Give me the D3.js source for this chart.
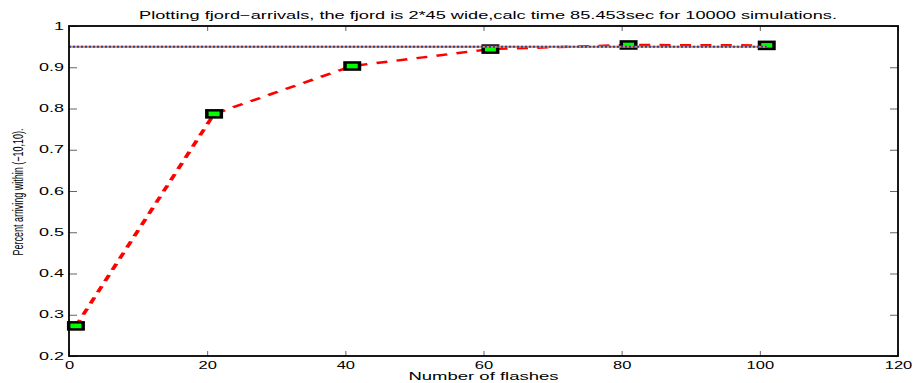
<!DOCTYPE html>
<html>
<head>
<meta charset="utf-8">
<script src="https://cdn.jsdelivr.net/npm/d3@7"></script>
<style>
  html, body { margin: 0; padding: 0; background: #fff; }
  svg { display: block; }
  text { font-family: "Liberation Sans", Arial, Helvetica, sans-serif; fill: #000; }
</style>
</head>
<body>
<svg id="chart" width="916" height="383"></svg>
<script>
// Simulation results: share of boats arriving within (-10,10) per number of flashes
const flashes = [1, 21, 41, 61, 81, 101];
const arrivalShare = [0.273, 0.787, 0.903, 0.944, 0.954, 0.953];

// Target level line
const targetX = [0, 101];
const targetLevel = [0.95, 0.95];

// Axis ticks
const xTicks = [0, 20, 40, 60, 80, 100, 120];
const yTicks = [0.2, 0.3, 0.4, 0.5, 0.6, 0.7, 0.8, 0.9, 1];

const titleText = "Plotting fjord\u2212arrivals, the fjord is 2*45 wide,calc time 85.453sec for 10000 simulations.";
const xLabelText = "Number of flashes";
const yLabelText = "Percent arriving within (\u221210,10).";

const W = 916, H = 383;
const m = { left: 69, top: 26, right: 18, bottom: 27 };
const pw = W - m.left - m.right;   // 829
const ph = H - m.top - m.bottom;   // 330
const stretch = 1.7;               // horizontal stretch of the figure

const svg = d3.select("#chart");

const x = d3.scaleLinear().domain([0, 120]).range([0, pw]);
const y = d3.scaleLinear().domain([0.2, 1]).range([ph, 0]);

const g = svg.append("g").attr("transform", `translate(${m.left},${m.top})`);

// Red dashed curve, drawn in unstretched units and stretched horizontally
const xs = d3.scaleLinear().domain([0, 120]).range([0, pw / stretch]);
const gLine = g.append("g").attr("transform", `scale(${stretch},1)`);
gLine.append("path")
  .datum(flashes.map((f, i) => [f, arrivalShare[i]]))
  .attr("fill", "none")
  .attr("stroke", "#ff0000")
  .attr("stroke-width", 2.4)
  .attr("stroke-dasharray", "6.5,5.5")
  .attr("d", d3.line().x(d => xs(d[0])).y(d => y(d[1])));

// Markers
const mk = g.append("g").selectAll("g.mk")
  .data(flashes.map((f, i) => [f, arrivalShare[i]]))
  .join("g")
  .attr("transform", d => `translate(${x(d[0])},${y(d[1])})`);
mk.append("rect").attr("x", -9).attr("y", -4.8).attr("width", 18).attr("height", 9.6).attr("fill", "#000");
mk.append("rect").attr("x", -5.5).attr("y", -2.3).attr("width", 11).attr("height", 4.6).attr("fill", "#00ff00");

// Target level line (solid under dotted)
const refData = targetX.map((v, i) => [v, targetLevel[i]]);
const refLine = d3.line().x(d => x(d[0])).y(d => y(d[1]));
g.append("path").datum(refData).attr("fill", "none")
  .attr("stroke", "#c98a5a").attr("stroke-width", 2).attr("d", refLine);
g.append("path").datum(refData).attr("fill", "none")
  .attr("stroke", "#3b3f9a").attr("stroke-width", 2).attr("stroke-dasharray", "2,2").attr("d", refLine);

// Axes
const tickColor = "#666";
const xBottom = g.append("g").attr("transform", `translate(0,${ph})`)
  .call(d3.axisBottom(x).tickValues(xTicks).tickFormat(d3.format("d")).tickSizeInner(-5).tickSizeOuter(0).tickPadding(6));
const xTop = g.append("g")
  .call(d3.axisTop(x).tickValues(xTicks).tickFormat("").tickSizeInner(-5).tickSizeOuter(0));
const yLeft = g.append("g")
  .call(d3.axisLeft(y).tickValues(yTicks).tickFormat(d => d === 1 ? "1" : d3.format(".1f")(d)).tickSizeInner(-8).tickSizeOuter(0).tickPadding(5));
const yRight = g.append("g").attr("transform", `translate(${pw},0)`)
  .call(d3.axisRight(y).tickValues(yTicks).tickFormat("").tickSizeInner(-8).tickSizeOuter(0));

[xBottom, xTop, yLeft, yRight].forEach(a => {
  a.select(".domain").remove();
  a.selectAll(".tick line").attr("stroke", tickColor).attr("stroke-width", 1);
});

const tickFont = 10;
xBottom.selectAll(".tick text")
  .attr("font-size", tickFont)
  .attr("dy", null).attr("y", 0)
  .attr("transform", `translate(0,13) scale(1.65,1)`);
yLeft.selectAll(".tick text")
  .attr("font-size", tickFont)
  .attr("x", 0)
  .attr("transform", `translate(-5,0) scale(1.8,1)`);

// Axes box
g.append("rect").attr("x", 0).attr("y", 0).attr("width", pw).attr("height", ph)
  .attr("fill", "none").attr("stroke", "#000").attr("stroke-width", 1.8);

// Title
svg.append("text")
  .attr("transform", "translate(488,19) scale(1.82,1)")
  .attr("text-anchor", "middle").attr("font-size", 10)
  .text(titleText);

// X label
svg.append("text")
  .attr("transform", `translate(${m.left + pw / 2},380) scale(1.85,1)`)
  .attr("text-anchor", "middle").attr("font-size", 10)
  .text(xLabelText);

// Y label
svg.append("text")
  .attr("transform", `translate(23,192) scale(1.6,1) rotate(-90)`)
  .attr("text-anchor", "middle").attr("font-size", 9)
  .text(yLabelText);
</script>
</body>
</html>
